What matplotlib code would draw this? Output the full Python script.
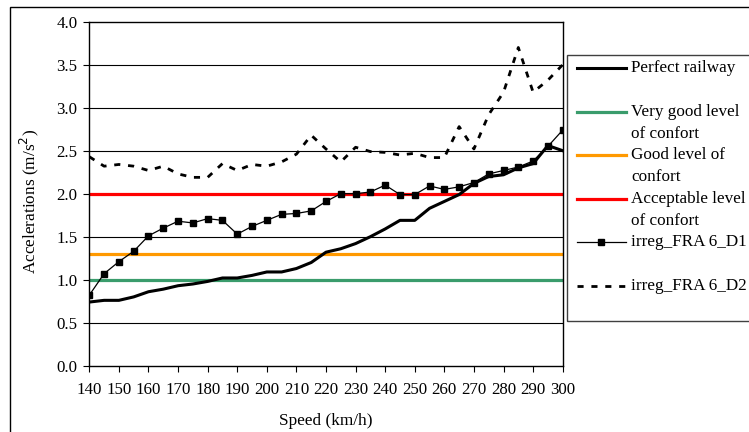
import matplotlib
matplotlib.use("Agg")
import matplotlib.pyplot as plt
from matplotlib.lines import Line2D
from matplotlib.patches import Rectangle

# ---------------- data ----------------
speed = [140, 145, 150, 155, 160, 165, 170, 175, 180, 185, 190, 195, 200,
         205, 210, 215, 220, 225, 230, 235, 240, 245, 250, 255, 260, 265,
         270, 275, 280, 285, 290, 295, 300]

perfect = [0.74, 0.76, 0.76, 0.80, 0.86, 0.89, 0.93, 0.95, 0.98, 1.02, 1.02,
           1.05, 1.09, 1.09, 1.13, 1.20, 1.32, 1.36, 1.42, 1.50, 1.59, 1.69,
           1.69, 1.83, 1.91, 1.99, 2.12, 2.20, 2.22, 2.30, 2.35, 2.56, 2.50]

d1 = [0.82, 1.07, 1.21, 1.33, 1.51, 1.60, 1.68, 1.66, 1.71, 1.69, 1.53,
      1.62, 1.69, 1.76, 1.77, 1.80, 1.91, 2.00, 2.00, 2.02, 2.10, 1.99,
      1.99, 2.09, 2.05, 2.08, 2.13, 2.23, 2.27, 2.31, 2.38, 2.55, 2.74]

d2 = [2.43, 2.32, 2.34, 2.32, 2.27, 2.32, 2.23, 2.19, 2.19, 2.35, 2.27,
      2.34, 2.32, 2.37, 2.46, 2.68, 2.52, 2.37, 2.54, 2.49, 2.48, 2.45,
      2.47, 2.42, 2.42, 2.78, 2.52, 2.92, 3.18, 3.70, 3.18, 3.32, 3.50]

thresholds = [1.0, 1.3, 2.0]
threshold_colors = ["#3a9c6c", "#ff9900", "#ff0000"]

legend_labels = [["Perfect railway"],
                 ["Very good level", "of confort"],
                 ["Good level of", "confort"],
                 ["Acceptable level", "of confort"],
                 ["irreg_FRA 6_D1"],
                 ["irreg_FRA 6_D2"]]

x_ticks = list(range(140, 301, 10))
y_ticks = [0.0, 0.5, 1.0, 1.5, 2.0, 2.5, 3.0, 3.5, 4.0]

# ---------------- figure ----------------
plt.rcParams['font.family'] = ['Liberation Serif', 'DejaVu Serif']
W, H = 749, 432
fig = plt.figure(figsize=(W / 100, H / 100), dpi=100)
fig.patch.set_facecolor("white")

ax_l, ax_r, ax_t, ax_b = 89.3, 562.7, 21.7, 365.7
ax = fig.add_axes([ax_l / W, 1 - ax_b / H, (ax_r - ax_l) / W, (ax_b - ax_t) / H])

# grid lines
for yv in y_ticks[1:-1]:
    ax.axhline(yv, color="black", lw=0.8, zorder=1)

for yv, c in zip(thresholds, threshold_colors):
    ax.axhline(yv, color=c, lw=2.3, zorder=2)

ax.plot(speed, d2, color="black", lw=2.0, linestyle=(0, (2.2, 2.8)), zorder=3)
ax.plot(speed, perfect, color="black", lw=2.2, zorder=4, solid_joinstyle="round")
ax.plot(speed, d1, color="black", lw=0.9, marker="s", markersize=3.8, zorder=5)

ax.set_xlim(140, 300)
ax.set_ylim(0, 4.0)
ax.set_xticks(x_ticks)
ax.set_xticklabels([str(v) for v in x_ticks])
ax.set_yticks(y_ticks)
ax.set_yticklabels([f"{v:.1f}" for v in y_ticks])
ax.tick_params(axis="x", direction="out", length=4.5, width=0.8, pad=7, labelsize=12.2)
ax.tick_params(axis="y", direction="out", length=4.5, width=0.8, pad=4, labelsize=12.2)
for s in ax.spines.values():
    s.set_linewidth(1.0)
    s.set_color("black")

ax.set_xlabel("Speed (km/h)", fontsize=12.4)
ax.xaxis.set_label_coords(0.5, -(420.7 - ax_b) / (ax_b - ax_t), transform=ax.transAxes)
ax.xaxis.label.set_va("center")
ax.set_ylabel("Accelerations (m/s$^2$)", fontsize=12.4)
ax.yaxis.set_label_coords((29 - ax_l) / (ax_r - ax_l), (ax_b - 201) / (ax_b - ax_t))
ax.yaxis.label.set_va("center")

# outer border
def fx(px):
    return px / W

def fy(py):
    return 1 - py / H

fig.patches.append(Rectangle((fx(10), fy(440)), 1.0, fy(7) - fy(440),
                             transform=fig.transFigure, fill=False,
                             edgecolor="black", lw=1.0))

# legend box
fig.patches.append(Rectangle((fx(567), fy(321)), 1.0, fy(55) - fy(321),
                             transform=fig.transFigure, fill=False,
                             edgecolor="#404040", lw=1.0))

handle_y = [68, 112, 155, 199, 242, 286]
handle_styles = [
    dict(color="black", lw=2.2),
    dict(color=threshold_colors[0], lw=2.3),
    dict(color=threshold_colors[1], lw=2.3),
    dict(color=threshold_colors[2], lw=2.3),
    dict(color="black", lw=0.9),
    dict(color="black", lw=2.0, linestyle=(0, (2.2, 2.8))),
]
for hy, st, labs in zip(handle_y, handle_styles, legend_labels):
    fig.add_artist(Line2D([fx(577), fx(626)], [fy(hy), fy(hy)],
                          transform=fig.transFigure, **st))
    for i, t in enumerate(labs):
        fig.text(fx(631), fy(hy + 21.7 * i), t, fontsize=12.3, va="center", ha="left")
# marker for D1 legend entry
fig.add_artist(Line2D([fx(601)], [fy(242)], transform=fig.transFigure,
                      marker="s", markersize=3.8, color="black", lw=0))

fig.savefig("out.png", dpi=100)
